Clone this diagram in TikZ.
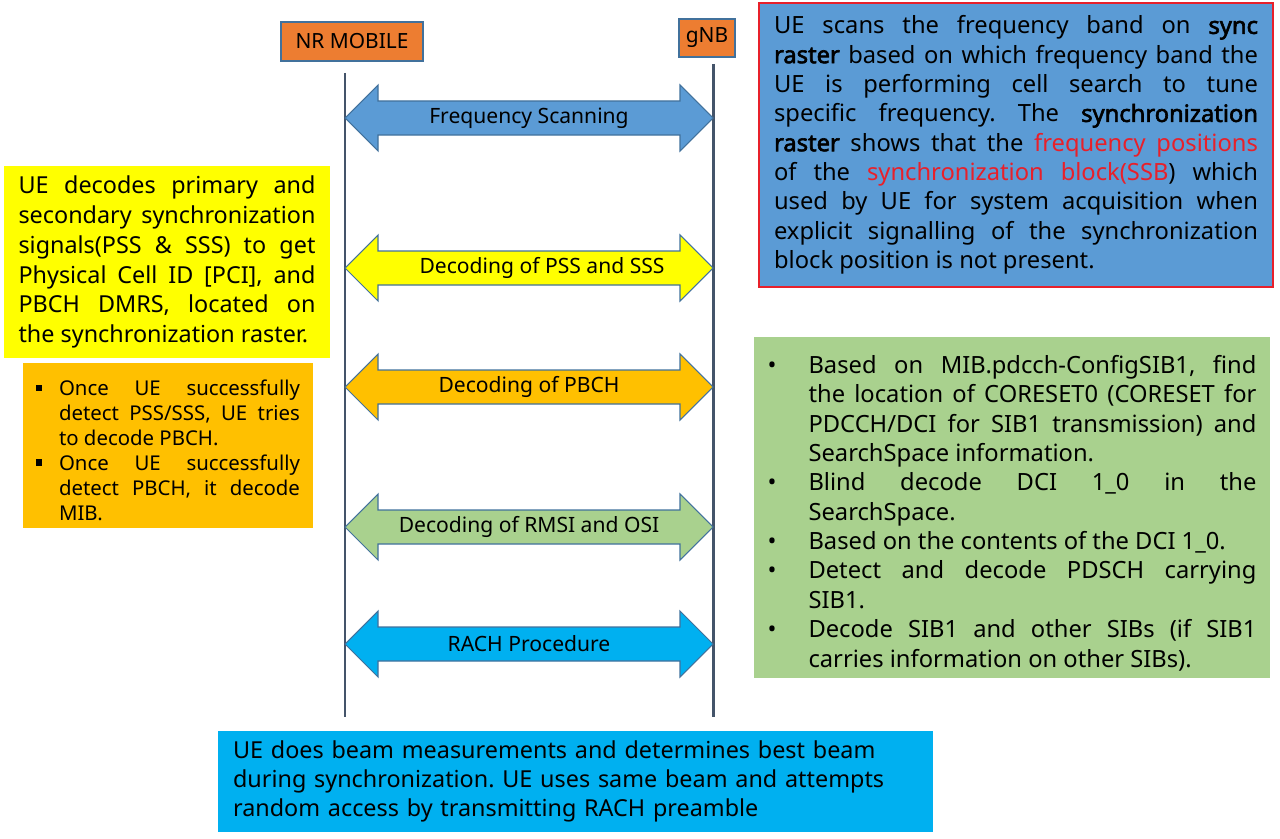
\documentclass[tikz,border=0pt]{standalone}
\usepackage{fontspec}
\setmainfont{Noto Sans}[BoldFont={Noto Sans}, BoldFeatures={FakeBold=2.5}]
\frenchspacing

\definecolor{hdrorange}{HTML}{ED7D31}
\definecolor{hdrborder}{HTML}{41719C}
\definecolor{lifegray}{HTML}{44546A}
\definecolor{scanblue}{HTML}{5B9BD5}
\definecolor{syncyellow}{HTML}{FFFF00}
\definecolor{pbchgold}{HTML}{FFC000}
\definecolor{sibgreen}{HTML}{A9D18E}
\definecolor{rachcyan}{HTML}{00B0F0}
\definecolor{txtred}{HTML}{E8202A}

\tikzset{
  hdr/.style={draw=hdrborder, line width=0.6pt, fill=hdrorange, inner sep=0pt,
    font=\fontsize{11.9}{14}\selectfont},
  lifeline/.style={draw=lifegray, line width=1.7pt},
  arrowline/.style={draw=hdrborder, line width=0.6pt, line join=miter},
  lbl/.style={inner sep=0pt, font=\fontsize{12}{14}\selectfont},
  note/.style={inner ysep=0pt, align=justify, anchor=center,
    font=\fontsize{13.5}{16.7}\selectfont},
}

\newcommand{\duplex}[5][529]{%
  \draw[arrowline, fill=#4] (345,#3) -- (378,#3-33) -- (378,#3-17) -- (680,#3-17)
    -- (680,#3-33) -- (713,#3) -- (680,#3+33) -- (680,#3+17) -- (378,#3+17)
    -- (378,#3+33) -- cycle;
  \node[lbl] (#2) at (#1,#3) {#5};}
\newcommand{\sqitem}{\par\hangindent=0.46cm\hangafter=1\noindent
  \makebox[0.46cm][l]{\rule[2.6pt]{3.6pt}{3.6pt}}}
\newcommand{\dotitem}{\par\hangindent=0.82cm\hangafter=1\noindent
  \makebox[0.82cm][l]{\textbullet}}

\begin{document}
\begin{tikzpicture}[x=0.02cm, y=-0.02cm]
  \useasboundingbox (0,0) rectangle (1280,838);
  
  %%%%% HEADERS AND LIFELINES %%%%%
  \node[hdr, minimum width=2.84cm, minimum height=0.78cm] (mobile) at (352,41.5) {NR MOBILE};
  \node[hdr, minimum width=1.12cm, minimum height=0.76cm] (gnb) at (707,38) {gNB};
  
  \coordinate (mtop) at (345,73);
  \coordinate (mbot) at (345,717);
  \coordinate (gtop) at (713,64);
  \coordinate (gbot) at (713,717);
  \draw[lifeline] (mtop) -- (mbot);
  \draw[lifeline] (gtop) -- (gbot);
  
  %%%%% MESSAGES %%%%%
  \duplex{scan}{118}{scanblue}{Frequency Scanning}
  \duplex[542]{pss}{268}{syncyellow}{Decoding of PSS and SSS}
  \duplex{pbch}{387}{pbchgold}{Decoding of PBCH}
  \duplex{rmsi}{527}{sibgreen}{Decoding of RMSI and OSI}
  \duplex{rach}{644}{rachcyan}{RACH Procedure}
  
  %%%%% NOTES %%%%%
  \node[note, fill=syncyellow, text width=5.94cm, inner xsep=0.29cm, minimum height=3.84cm,
    font=\fontsize{13.3}{17}\selectfont] (pssnote) at (167,262)
    {UE decodes primary and\linebreak secondary synchronization\linebreak
     signals(PSS \& SSS) to get\linebreak Physical Cell ID [PCI], and\linebreak
     PBCH DMRS, located on\linebreak the synchronization raster.};
  
  \node[note, fill=pbchgold, text width=5.28cm, inner xsep=0.26cm, minimum height=3.3cm,
    font=\fontsize{11.6}{14.2}\selectfont] (pbchnote) at (168,445.5)
    {\sqitem Once UE successfully\linebreak detect PSS/SSS, UE tries\linebreak to decode PBCH.
     \sqitem Once UE successfully\linebreak detect PBCH, it decode\linebreak MIB.\par};
  
  \node[note, draw=txtred, line width=0.8pt, fill=scanblue, text width=9.68cm, inner xsep=0.3cm,
    minimum height=5.68cm] (scannote) at (1016,145)
    {UE scans the frequency band on \textbf{sync}\linebreak
     \textbf{raster} based on which frequency band the\linebreak
     UE is performing cell search to tune\linebreak
     specific frequency. The \textbf{synchronization}\linebreak
     \textbf{raster} shows that the \textcolor{txtred}{frequency positions}\linebreak
     of the \textcolor{txtred}{synchronization block(SSB}) which\linebreak
     used by UE for system acquisition when\linebreak
     explicit signalling of the synchronization\linebreak
     block position is not present.};
  
  \node[note, fill=sibgreen, text width=9.78cm, inner xsep=0.27cm, minimum height=6.82cm]
    (sibnote) at (1012,507.5)
    {\dotitem Based on MIB.pdcch-ConfigSIB1, find\linebreak the location of CORESET0 (CORESET for\linebreak
       PDCCH/DCI for SIB1 transmission) and\linebreak SearchSpace information.
     \dotitem Blind decode DCI 1\_0 in the\linebreak SearchSpace.
     \dotitem Based on the contents of the DCI 1\_0.
     \dotitem Detect and decode PDSCH carrying\linebreak SIB1.
     \dotitem Decode SIB1 and other SIBs (if SIB1\linebreak carries information on other SIBs).\par};
  
  \node[note, align=left, fill=rachcyan, text width=13.7cm, inner xsep=0.3cm, minimum height=2.02cm,
    font=\fontsize{13.3}{16.5}\selectfont] (rachnote) at (575.5,781.5)
    {UE does beam measurements and determines best beam\\
     during synchronization. UE uses same beam and attempts\\
     random access by transmitting RACH preamble};
  
\end{tikzpicture}
\end{document}
